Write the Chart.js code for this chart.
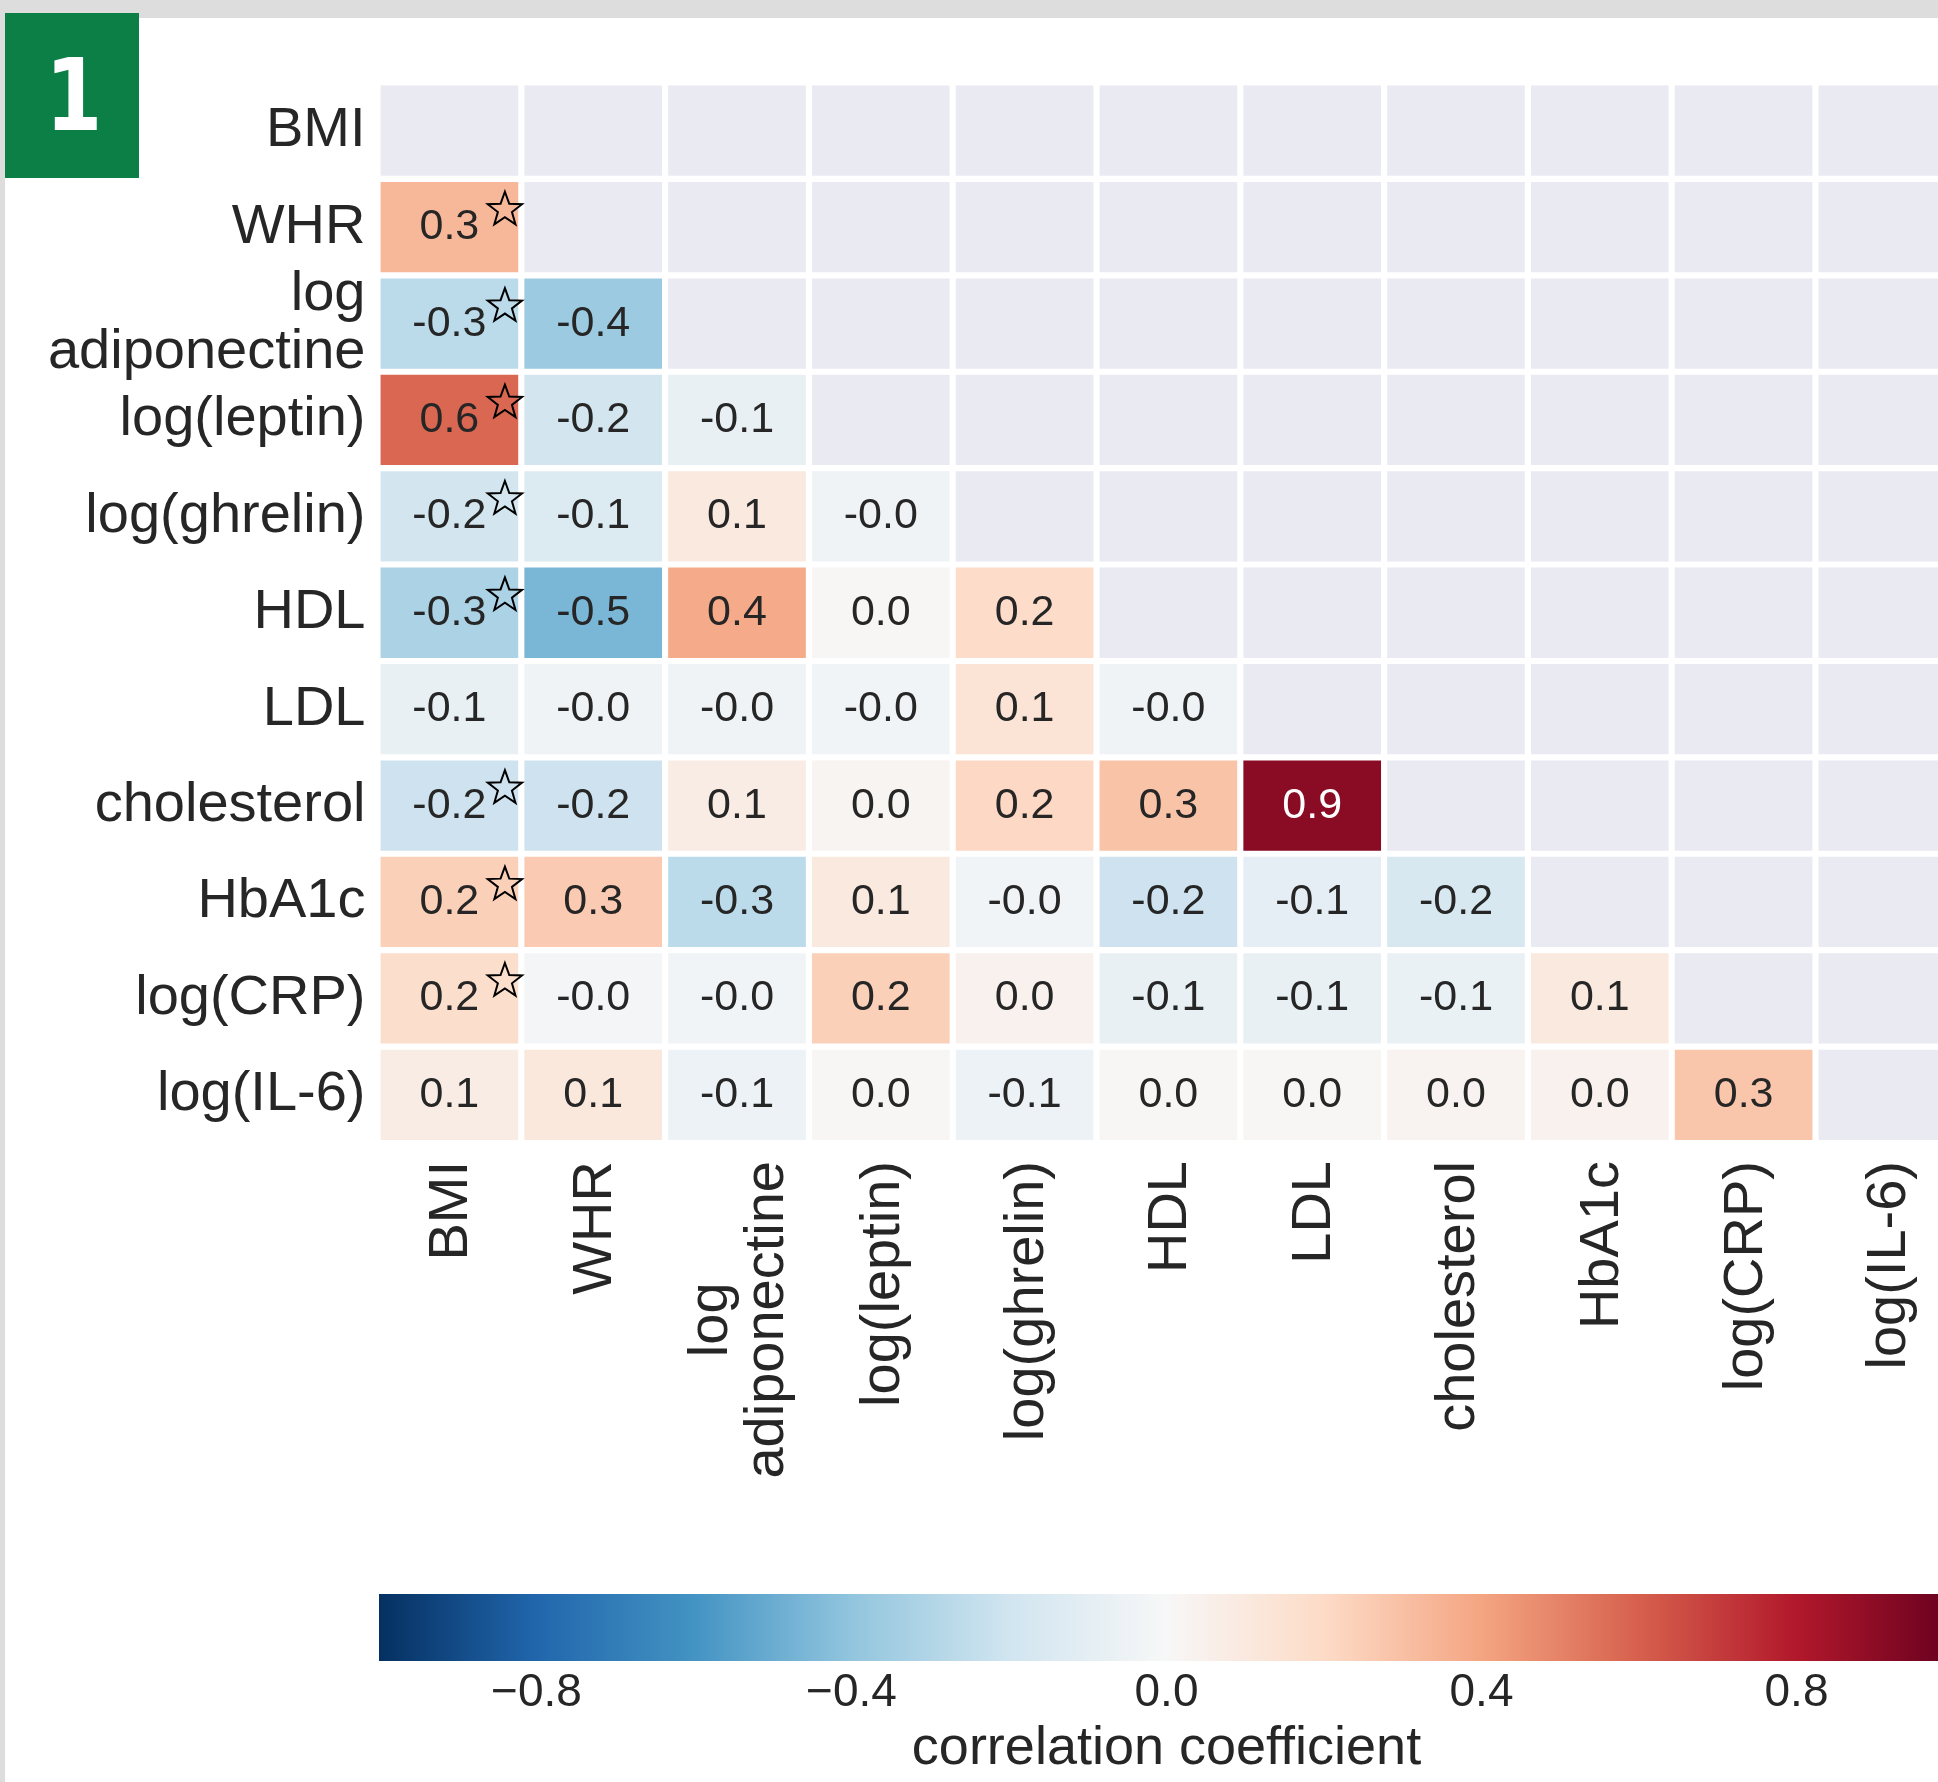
<!DOCTYPE html>
<html>
<head>
<meta charset="utf-8">
<script src="https://cdn.jsdelivr.net/npm/chart.js@4.4.1/dist/chart.umd.min.js"></script>
<style>
html, body { margin: 0; padding: 0; background: #ffffff; overflow: hidden; }
#page { position: relative; width: 1938px; height: 1782px; overflow: hidden; background: #ffffff; }
#topbar { position: absolute; left: 0; top: 0; width: 1938px; height: 18px; background: #dddddd; z-index: 2; }
#leftbar { position: absolute; left: 0; top: 0; width: 5px; height: 1782px; background: #dddddd; z-index: 2; }
#badge { position: absolute; left: 5px; top: 13px; width: 134px; height: 165px; background: #0c7f46; color: #ffffff;
  display: flex; align-items: center; justify-content: center; z-index: 3; }
#badge span { display: inline-block; font: bold 100px "DejaVu Sans", sans-serif; transform: scaleX(0.82); margin-left: 3px; }
#heatWrap { position: absolute; left: 0; top: 0; width: 2000px; height: 1560px; z-index: 1; }
#cbWrap { position: absolute; left: 0; top: 1560px; width: 2000px; height: 222px; z-index: 1; }
canvas { display: block; }
</style>
</head>
<body>
<div id="page">
  <div id="heatWrap"><canvas id="heat" width="2000" height="1560"></canvas></div>
  <div id="cbWrap"><canvas id="cbar" width="2000" height="222"></canvas></div>
  <div id="topbar"></div>
  <div id="leftbar"></div>
  <div id="badge"><span>1</span></div>
</div>
<script>
// ---------------- DATA ----------------
const rowLabels = ['BMI', 'WHR', ['log', 'adiponectine'], 'log(leptin)', 'log(ghrelin)', 'HDL', 'LDL',
  'cholesterol', 'HbA1c', 'log(CRP)', 'log(IL-6)'];
const colLabels = ['BMI', 'WHR', ['log', 'adiponectine'], 'log(leptin)', 'log(ghrelin)', 'HDL', 'LDL',
  'cholesterol', 'HbA1c', 'log(CRP)', 'log(IL-6)'];

// lower-triangle correlation values: row r holds columns 0..r-1
const rowBMI = [];
const rowWHR = [0.33];
const rowAdiponectine = [-0.27, -0.37];
const rowLeptin = [0.58, -0.19, -0.08];
const rowGhrelin = [-0.19, -0.14, 0.10, -0.04];
const rowHDL = [-0.32, -0.46, 0.38, 0.01, 0.19];
const rowLDL = [-0.08, -0.04, -0.04, -0.03, 0.14, -0.04];
const rowCholesterol = [-0.21, -0.21, 0.08, 0.02, 0.21, 0.29, 0.91];
const rowHbA1c = [0.24, 0.26, -0.27, 0.10, -0.03, -0.21, -0.10, -0.17];
const rowCRP = [0.18, -0.02, -0.03, 0.24, 0.04, -0.08, -0.08, -0.07, 0.10];
const rowIL6 = [0.08, 0.11, -0.06, 0.01, -0.06, 0.01, 0.01, 0.03, 0.04, 0.28];

// significance star for the BMI column, per row
const sigBMI = [false, true, true, true, true, true, false, true, true, true, false];

const cbTicks = [-0.8, -0.4, 0.0, 0.4, 0.8];
const cbLabel = 'correlation coefficient';

// ---------------- STYLE / HELPERS ----------------
const matrixRows = [rowBMI, rowWHR, rowAdiponectine, rowLeptin, rowGhrelin, rowHDL, rowLDL,
  rowCholesterol, rowHbA1c, rowCRP, rowIL6];
const FONT = '"Liberation Sans", Arial, sans-serif';
const TEXT = '#262626';
const MASK = '#eaeaf2';
// RdBu_r (ColorBrewer 11 classes), from -1 to +1
const rdbuR = [
  [5, 48, 97], [33, 102, 172], [67, 147, 195], [146, 197, 222], [209, 229, 240], [247, 247, 247],
  [253, 219, 199], [244, 165, 130], [214, 96, 77], [178, 24, 43], [103, 0, 31]
];
function cmap(v) {
  let t = (v + 1) / 2;
  t = Math.max(0, Math.min(1, t)) * (rdbuR.length - 1);
  const i = Math.min(rdbuR.length - 2, Math.floor(t));
  const f = t - i;
  const a = rdbuR[i], b = rdbuR[i + 1];
  const c = a.map((x, k) => Math.round(x + (b[k] - x) * f));
  return 'rgb(' + c.join(',') + ')';
}
function cellValue(r, c) {
  const row = matrixRows[r];
  return (c < row.length) ? row[c] : null;
}
function drawStar(ctx, cx, cy, R, r) {
  ctx.beginPath();
  for (let i = 0; i < 10; i++) {
    const ang = -Math.PI / 2 + i * Math.PI / 5;
    const rad = (i % 2 === 0) ? R : r;
    const px = cx + rad * Math.cos(ang), py = cy + rad * Math.sin(ang);
    if (i === 0) ctx.moveTo(px, py); else ctx.lineTo(px, py);
  }
  ctx.closePath();
  ctx.stroke();
}

// ---------------- HEATMAP ----------------
const datasets = colLabels.map((lab, c) => ({
  label: Array.isArray(lab) ? lab.join(' ') : lab,
  data: rowLabels.map(() => [c - 0.5, c + 0.5]),
  backgroundColor: (ctx) => {
    const v = cellValue(ctx.dataIndex, c);
    return v === null ? MASK : cmap(v);
  },
  borderColor: '#ffffff',
  borderWidth: 3.4,
  borderSkipped: false,
  grouped: false,
  barPercentage: 1,
  categoryPercentage: 1
}));

const annotPlugin = {
  id: 'annot',
  afterDatasetsDraw(chart) {
    const { ctx, scales: { x, y } } = chart;
    const colW = x.getPixelForValue(1) - x.getPixelForValue(0);
    const rowH = y.getPixelForValue(1) - y.getPixelForValue(0);
    ctx.save();
    ctx.font = '43px ' + FONT;
    ctx.textAlign = 'center';
    ctx.textBaseline = 'alphabetic';
    matrixRows.forEach((row, r) => {
      row.forEach((v, c) => {
        const px = x.getPixelForValue(c), py = y.getPixelForValue(r);
        ctx.fillStyle = Math.abs(v) > 0.75 ? '#ffffff' : TEXT;
        ctx.fillText(v.toFixed(1), px, py + 12);
        if (c === 0 && sigBMI[r]) {
          ctx.strokeStyle = '#000000';
          ctx.lineWidth = 2;
          ctx.lineJoin = 'miter';
          drawStar(ctx, px + 0.386 * colW, py - 0.18 * rowH, 18, 7.4);
        }
      });
    });
    ctx.restore();
  }
};

const xLabelPlugin = {
  id: 'xLabels',
  afterDraw(chart) {
    const { ctx, scales: { x }, chartArea } = chart;
    ctx.save();
    ctx.font = '56px ' + FONT;
    ctx.fillStyle = TEXT;
    colLabels.forEach((lab, i) => {
      const lines = Array.isArray(lab) ? lab : [lab];
      const cx = x.getPixelForValue(i);
      const top = chartArea.bottom + 18;
      const maxW = Math.max(...lines.map(l => ctx.measureText(l).width));
      ctx.save();
      ctx.translate(cx, top);
      ctx.rotate(-Math.PI / 2);
      ctx.textAlign = 'center';
      ctx.textBaseline = 'alphabetic';
      lines.forEach((l, k) => {
        const off = (k - (lines.length - 1) / 2) * 56;
        ctx.fillText(l, -maxW / 2, off + 18);
      });
      ctx.restore();
    });
    ctx.restore();
  }
};

new Chart(document.getElementById('heat'), {
  type: 'bar',
  data: { labels: rowLabels, datasets },
  options: {
    indexAxis: 'y',
    responsive: false,
    animation: false,
    events: [],
    layout: { padding: { left: 0, top: 82.5, right: 40.7, bottom: 417 } },
    plugins: { legend: { display: false }, tooltip: { enabled: false } },
    scales: {
      x: { type: 'linear', min: -0.5, max: colLabels.length - 0.5, display: false },
      y: {
        type: 'category',
        offset: true,
        grid: { display: false, drawTicks: false },
        border: { display: false },
        ticks: {
          autoSkip: false,
          color: TEXT,
          padding: 12,
          labelOffset: 0,
          font: { family: FONT, size: 56, lineHeight: 58 / 56 }
        },
        afterFit(s) { s.width = 377.5; }
      }
    }
  },
  plugins: [annotPlugin, xLabelPlugin]
});

// ---------------- COLORBAR ----------------
new Chart(document.getElementById('cbar'), {
  type: 'bar',
  data: {
    labels: [''],
    datasets: [{
      data: [[-1, 1]],
      backgroundColor: (c) => {
        const ch = c.chart;
        const xs = ch.scales && ch.scales.x;
        if (!xs || !ch.chartArea) return '#f7f7f7';
        const g = ch.ctx.createLinearGradient(xs.getPixelForValue(-1), 0, xs.getPixelForValue(1), 0);
        rdbuR.forEach((col, i) => g.addColorStop(i / (rdbuR.length - 1), 'rgb(' + col.join(',') + ')'));
        return g;
      },
      borderWidth: 0,
      barPercentage: 1,
      categoryPercentage: 1
    }]
  },
  options: {
    indexAxis: 'y',
    responsive: false,
    animation: false,
    events: [],
    layout: { padding: { left: 379, top: 34, right: 46, bottom: 0 } },
    plugins: { legend: { display: false }, tooltip: { enabled: false } },
    scales: {
      y: { type: 'category', display: false },
      x: {
        type: 'linear', min: -1, max: 1, position: 'bottom',
        grid: { display: false, drawTicks: false },
        border: { display: false },
        afterBuildTicks(s) { s.ticks = cbTicks.map(v => ({ value: v })); },
        ticks: {
          autoSkip: false, maxRotation: 0, color: TEXT, padding: 5,
          font: { family: FONT, size: 46 },
          callback: (v) => (v < 0 ? '\u2212' : '') + Math.abs(v).toFixed(1)
        },
        title: {
          display: true, text: cbLabel, color: TEXT,
          font: { family: FONT, size: 54 }, padding: { top: 0, bottom: 0 }
        },
        afterFit(s) { s.height = 121; }
      }
    }
  }
});
</script>
</body>
</html>
